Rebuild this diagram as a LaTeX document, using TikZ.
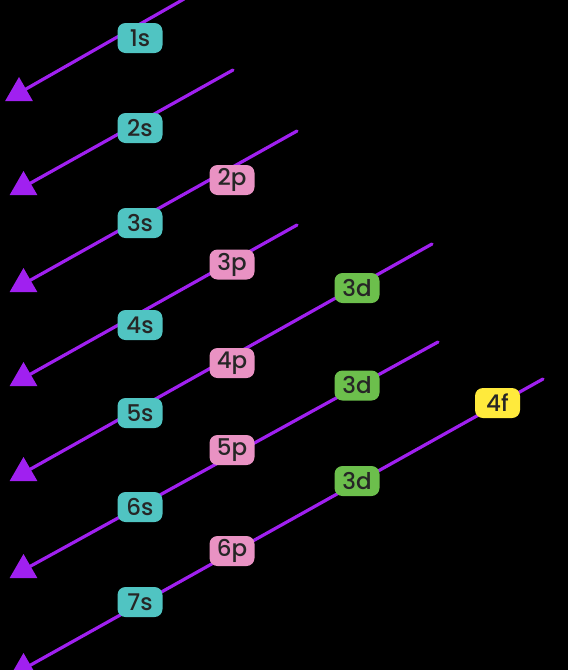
\documentclass[tikz,border=0pt]{standalone}
\usepackage{fontspec}
\setmainfont{Poppins}[UprightFont={* Medium}]
\usepackage{tikz}
\usetikzlibrary{shapes.geometric}
\definecolor{wirepurple}{HTML}{A020F0}
\definecolor{sorb}{HTML}{50C4C2}
\definecolor{porb}{HTML}{E992C3}
\definecolor{dorb}{HTML}{6CBF4C}
\definecolor{forb}{HTML}{FFEA3C}
\definecolor{labeltext}{HTML}{262626}

\begin{document}
\begin{tikzpicture}[x=1pt, y=-1pt,
		wire/.style={draw=wirepurple, line width=3.2pt, line cap=round},
		tip/.style={regular polygon, regular polygon sides=3, fill=wirepurple, minimum size=32pt, inner sep=0pt, outer sep=0pt},
		orb/.style={rounded corners=8pt, minimum width=45pt, minimum height=30pt, inner sep=2pt, text=labeltext, font=\fontsize{23}{23}\selectfont},
		sorbital/.style={orb, fill=sorb},
		porbital/.style={orb, fill=porb},
		dorbital/.style={orb, fill=dorb},
		forbital/.style={orb, fill=forb}]
			%%%%% START %%%%%
			\useasboundingbox (0, 0) rectangle (568, 670);
			\fill[black] (0, 0) rectangle (568, 670);
			
			% upper ends of the diagonals
			\coordinate (top1) at (184, -1);
			\coordinate (top2) at (233, 70);
			\coordinate (top3) at (297, 131);
			\coordinate (top4) at (297, 225);
			\coordinate (top5) at (432, 244);
			\coordinate (top6) at (438, 342);
			\coordinate (top7) at (543, 379);
			
			% triangles at the lower ends
			\node[tip] (tip1) at (19, 93) {};
			\node[tip] (tip2) at (23.5, 187) {};
			\node[tip] (tip3) at (23.5, 284) {};
			\node[tip] (tip4) at (23.5, 378) {};
			\node[tip] (tip5) at (23.5, 473) {};
			\node[tip] (tip6) at (23.5, 570) {};
			\node[tip] (tip7) at (23.5, 669) {};
			
			\foreach \i in {1,...,7}
				\draw[wire] (top\i) -- (tip\i.center);
			
			% orbitals
			\node[sorbital] (s1) at (140, 38) {1s};
			\node[sorbital] (s2) at (140, 128) {2s};
			\node[porbital] (p2) at (232, 180) {2p};
			\node[sorbital] (s3) at (140, 223) {3s};
			\node[porbital] (p3) at (232, 264.5) {3p};
			\node[dorbital] (d3a) at (357, 288) {3d};
			\node[sorbital] (s4) at (140, 325) {4s};
			\node[porbital] (p4) at (232, 363) {4p};
			\node[dorbital] (d3b) at (357, 385.5) {3d};
			\node[sorbital] (s5) at (140, 413) {5s};
			\node[porbital] (p5) at (232, 450) {5p};
			\node[forbital] (f4) at (497.5, 403) {4f};
			\node[dorbital] (d3c) at (357, 481) {3d};
			\node[sorbital] (s6) at (140, 507) {6s};
			\node[porbital] (p6) at (232, 551) {6p};
			\node[sorbital] (s7) at (140, 602) {7s};
			%%%%% END %%%%%
\end{tikzpicture}
\end{document}
